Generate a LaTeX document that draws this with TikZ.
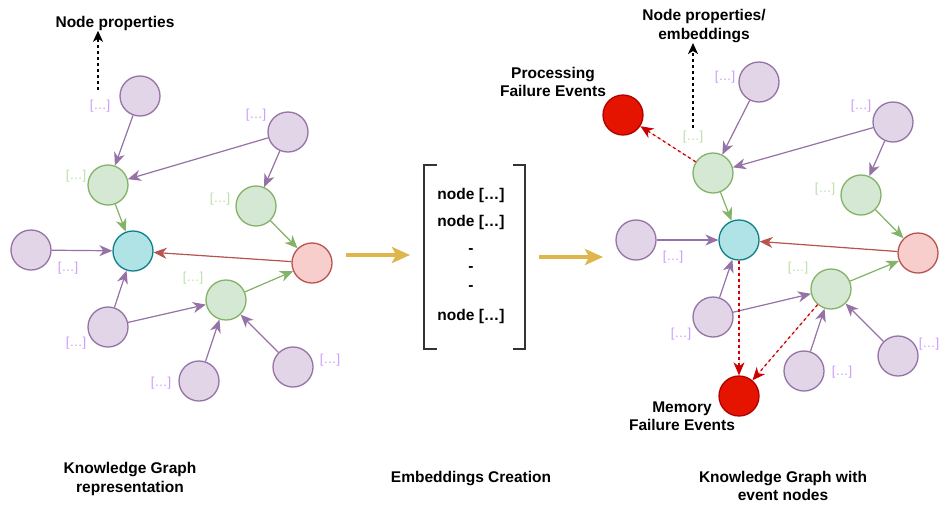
\documentclass[tikz,border=0pt]{standalone}
\usepackage{fontspec}
\setmainfont{Liberation Sans}
\usetikzlibrary{arrows.meta}

\definecolor{purpfill}{HTML}{E1D5E7}
\definecolor{purpline}{HTML}{9673A6}
\definecolor{greenfill}{HTML}{D5E8D4}
\definecolor{greenline}{HTML}{82B366}
\definecolor{cyanfill}{HTML}{B0E3E6}
\definecolor{cyanline}{HTML}{0E8088}
\definecolor{pinkfill}{HTML}{F8CECC}
\definecolor{pinkline}{HTML}{B85450}
\definecolor{eventfill}{HTML}{E51400}
\definecolor{eventline}{HTML}{B20000}
\definecolor{goldarrow}{HTML}{DDB64E}
\definecolor{purptext}{HTML}{CC99FF}
\definecolor{greentext}{HTML}{B9E0A5}
\definecolor{dashred}{HTML}{CC0000}

\begin{document}
\begin{tikzpicture}[x=1pt,y=-1pt,
  kgnode/.style={circle,inner sep=0pt,minimum size=40pt,line width=1.3pt},
  purp/.style={kgnode,fill=purpfill,draw=purpline},
  grn/.style={kgnode,fill=greenfill,draw=greenline},
  cyn/.style={kgnode,fill=cyanfill,draw=cyanline},
  pnk/.style={kgnode,fill=pinkfill,draw=pinkline},
  evt/.style={kgnode,fill=eventfill,draw=eventline},
  tip/.style={-{Stealth[length=13pt,width=11pt,inset=4pt]}},
  pedge/.style={tip,draw=purpline,fill=purpline,line width=1.2pt},
  gedge/.style={tip,draw=greenline,fill=greenline,line width=1.2pt},
  redge/.style={tip,draw=pinkline,fill=pinkline,line width=1.2pt},
  evedge/.style={tip,draw=dashred,fill=dashred,line width=1.3pt,dash pattern=on 3pt off 3pt},
  propedge/.style={-{Stealth[length=11pt,width=10pt,inset=3pt]},line width=1.5pt,dash pattern=on 3pt off 3pt},
  flow/.style={-{Stealth[length=18pt,width=16pt,inset=4pt]},draw=goldarrow,fill=goldarrow,line width=4pt},
  plabel/.style={text=purptext,font=\fontsize{13}{15}\selectfont},
  glabel/.style={text=greentext,font=\fontsize{13}{15}\selectfont},
  caption/.style={align=center,font=\bfseries\fontsize{15.5}{18.5}\selectfont},
  vecentry/.style={font=\bfseries\fontsize{15.5}{18.5}\selectfont},
]
\clip (0,0) rectangle (941,504);
\fill[white] (0,0) rectangle (941,504);

% ---------- left: knowledge graph ----------
\node[purp] (P1) at (140,96) {};
\node[purp] (P2) at (288,132) {};
\node[grn]  (G1) at (108,185) {};
\node[grn]  (G2) at (256,206) {};
\node[purp] (P3) at (31,250) {};
\node[cyn]  (C)  at (133,251) {};
\node[pnk]  (R)  at (312,263) {};
\node[grn]  (G3) at (226,300) {};
\node[purp] (P4) at (108,327) {};
\node[purp] (P5) at (199,381) {};
\node[purp] (P6) at (293,367) {};

\draw[pedge] (P1) -- (G1);
\draw[pedge] (P2) -- (G1);
\draw[pedge] (P2) -- (G2);
\draw[gedge] (G1) -- (C);
\draw[gedge] (G2) -- (R);
\draw[pedge] (P3) -- (C);
\draw[redge] (R) -- (C);
\draw[pedge] (P4) -- (C);
\draw[pedge] (P4) -- (G3);
\draw[gedge] (G3) -- (R);
\draw[pedge] (P5) -- (G3);
\draw[pedge] (P6) -- (G3);

\node[plabel] (lP1) at (100,106) {[…]};
\node[plabel] (lP2) at (256,115) {[…]};
\node[glabel] (lG1) at (76,176) {[…]};
\node[glabel] (lG2) at (220,199) {[…]};
\node[plabel] (lP3) at (68,268) {[…]};
\node[glabel] (lG3) at (193,278) {[…]};
\node[plabel] (lP4) at (76,343) {[…]};
\node[plabel] (lP5) at (161,383) {[…]};
\node[plabel] (lP6) at (330,360) {[…]};

\node[caption] (np1) at (115,23) {Node properties};
\coordinate (np1base) at (98,90);
\draw[propedge] (np1base) -- ([yshift=3pt]np1.south -| np1base);

\node[caption] (cap1) at (130,479) {Knowledge Graph\\representation};

% ---------- middle: embedding vectors ----------
\coordinate (fa1) at (346,255);
\coordinate (fb1) at (410,255);
\draw[flow] (fa1) -- (fb1);

\draw[line width=1.3pt,draw=black!80] (437,165) -- (424,165) -- (424,349) -- (437,349);
\draw[line width=1.3pt,draw=black!80] (513,165) -- (525,165) -- (525,349) -- (513,349);

\node[vecentry] (v1) at (471,195) {node […]};
\node[vecentry] (v2) at (471,222) {node […]};
\node[vecentry] (d1) at (471,251) {-};
\node[vecentry] (d2) at (471,269) {-};
\node[vecentry] (d3) at (471,288) {-};
\node[vecentry] (vn) at (471,316) {node […]};

\coordinate (fa2) at (539,257);
\coordinate (fb2) at (603,257);
\draw[flow] (fa2) -- (fb2);

\node[caption] (cap2) at (471,479) {Embeddings Creation};

% ---------- right: knowledge graph with event nodes ----------
\node[evt]  (E1) at (623,115) {};
\node[purp] (Q1) at (759,82) {};
\node[purp] (Q2) at (893,122) {};
\node[grn]  (H1) at (713,173) {};
\node[grn]  (H2) at (861,195) {};
\node[purp] (Q3) at (636,240) {};
\node[cyn]  (D)  at (739,240) {};
\node[pnk]  (S)  at (918,253) {};
\node[grn]  (H3) at (831,289) {};
\node[purp] (Q4) at (713,317) {};
\node[purp] (Q5) at (804,371) {};
\node[purp] (Q6) at (898,356) {};
\node[evt]  (E2) at (739,396) {};

\draw[pedge] (Q1) -- (H1);
\draw[pedge] (Q2) -- (H1);
\draw[pedge] (Q2) -- (H2);
\draw[gedge] (H1) -- (D);
\draw[gedge] (H2) -- (S);
\draw[pedge] (Q3) -- (D);
\draw[redge] (S) -- (D);
\draw[pedge] (Q4) -- (D);
\draw[pedge] (Q4) -- (H3);
\draw[gedge] (H3) -- (S);
\draw[pedge] (Q5) -- (H3);
\draw[pedge] (Q6) -- (H3);

\draw[evedge] (H1) -- (E1);
\draw[evedge] (D) -- (E2);
\draw[evedge] (H3) -- (E2);

\node[plabel] (lQ1) at (725,77) {[…]};
\node[plabel] (lQ2) at (861,106) {[…]};
\node[glabel] (lH1) at (693,137) {[…]};
\node[glabel] (lH2) at (825,189) {[…]};
\node[plabel] (lQ3) at (673,257) {[…]};
\node[glabel] (lH3) at (798,268) {[…]};
\node[plabel] (lQ4) at (681,334) {[…]};
\node[plabel] (lQ5) at (842,372) {[…]};
\node[plabel] (lQ6) at (929,344) {[…]};

\node[caption] (np2) at (704,26) {Node properties/\\embeddings};
\coordinate (np2base) at (693,128);
\draw[propedge] (np2base) -- ([yshift=3pt]np2.south -| np2base);

\node[caption] (ev1) at (553,82) {Processing\\Failure Events};
\node[caption] (ev2) at (682,416) {Memory\\Failure Events};

\node[caption] (cap3) at (783,486) {Knowledge Graph with\\event nodes};
\end{tikzpicture}
\end{document}
